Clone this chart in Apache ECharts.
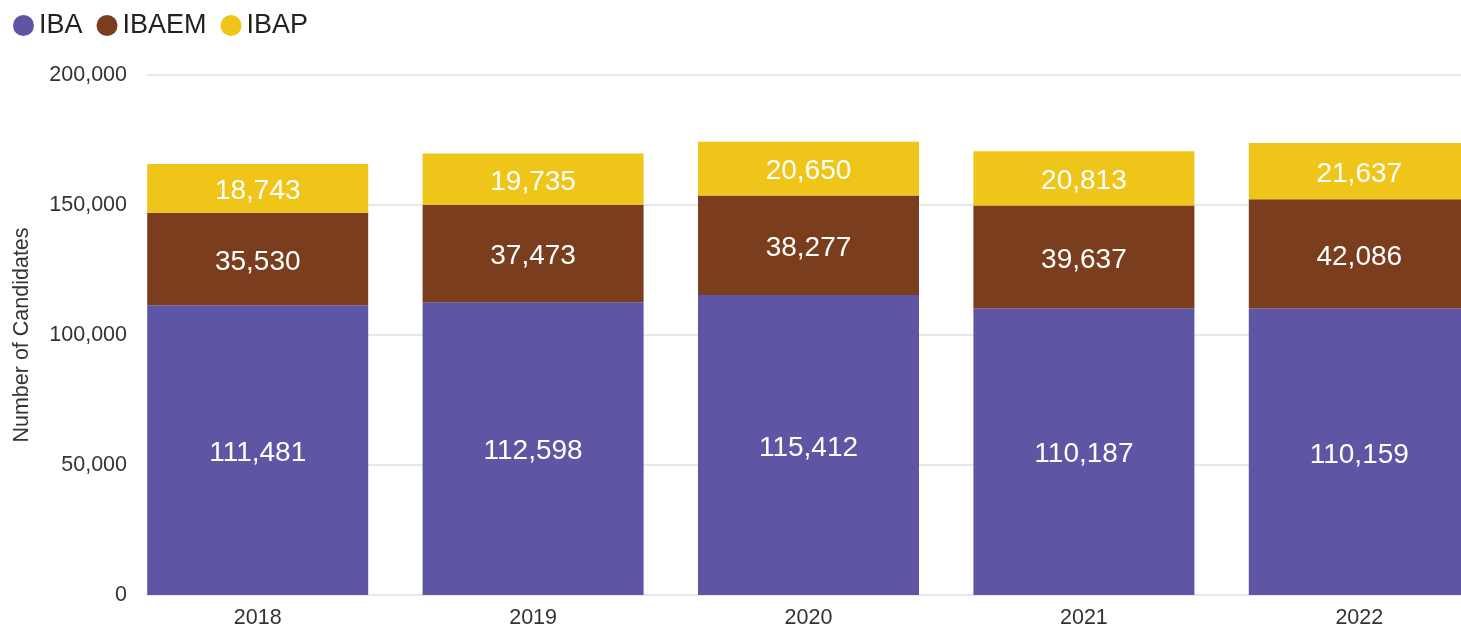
<!DOCTYPE html>
<html>
<head>
<meta charset="utf-8">
<script src="https://cdn.jsdelivr.net/npm/echarts@6/dist/echarts.min.js"></script>
<style>
html,body{margin:0;padding:0;background:#fff;}
#c{width:1461px;height:628px;}
</style>
</head>
<body>
<div id="c"></div>
<script>
const categories = ['2018','2019','2020','2021','2022'];
const ibaValues = [111481, 112598, 115412, 110187, 110159];
const ibaemValues = [35530, 37473, 38277, 39637, 42086];
const ibapValues = [18743, 19735, 20650, 20813, 21637];
const yTicks = [0, 50000, 100000, 150000, 200000];

const FONT = '"Liberation Sans", Arial, sans-serif';
const chart = echarts.init(document.getElementById('c'));
const fmt = v => Number(v).toLocaleString('en-US');
const labelCfg = {
  show: true, position: 'inside', offset: [0, 3], color: '#ffffff', fontSize: 28, fontFamily: FONT,
  formatter: p => fmt(p.value)
};
function mk(name, data, color) {
  return {
    name, type: 'bar', stack: 'total', data,
    xAxisIndex: 1, yAxisIndex: 1,
    barWidth: 221,
    itemStyle: { color },
    label: labelCfg,
    emphasis: { disabled: true }
  };
}
chart.setOption({
  animation: false,
  textStyle: { fontFamily: FONT },
  legend: {
    left: 8, top: 7,
    icon: 'circle', itemWidth: 21, itemHeight: 21, itemGap: 14,
    textStyle: { fontSize: 27, color: '#222', fontFamily: FONT },
    data: ['IBA', 'IBAEM', 'IBAP']
  },
  grid: [
    { left: 147, right: 0, top: 75, bottom: 33, outerBoundsMode: 'none', containLabel: false },
    { left: 120, width: 1377, top: 75, bottom: 33, outerBoundsMode: 'none', containLabel: false }
  ],
  xAxis: [
    { type: 'category', gridIndex: 0, data: categories, show: false },
    {
      type: 'category', gridIndex: 1, data: categories,
      axisLine: { show: false }, axisTick: { show: false },
      axisLabel: { fontSize: 21.5, color: '#333', margin: 12, fontFamily: FONT }
    }
  ],
  yAxis: [
    {
      type: 'value', gridIndex: 0, min: yTicks[0], max: yTicks[yTicks.length - 1], interval: 50000,
      name: 'Number of Candidates', nameLocation: 'middle', nameGap: 114,
      nameTextStyle: { fontSize: 21.5, color: '#333', fontFamily: FONT },
      axisLine: { show: false }, axisTick: { show: false },
      axisLabel: { fontSize: 21.5, color: '#333', margin: 20, fontFamily: FONT, formatter: v => fmt(v) },
      splitLine: { lineStyle: { color: '#e8e8e8', width: 2 } }
    },
    {
      type: 'value', gridIndex: 1, min: yTicks[0], max: yTicks[yTicks.length - 1], interval: 50000,
      show: false, splitLine: { show: false }
    }
  ],
  series: [
    mk('IBA', ibaValues, '#5e56a4'),
    mk('IBAEM', ibaemValues, '#7a3e1e'),
    mk('IBAP', ibapValues, '#efc51a')
  ]
});
</script>
</body>
</html>
